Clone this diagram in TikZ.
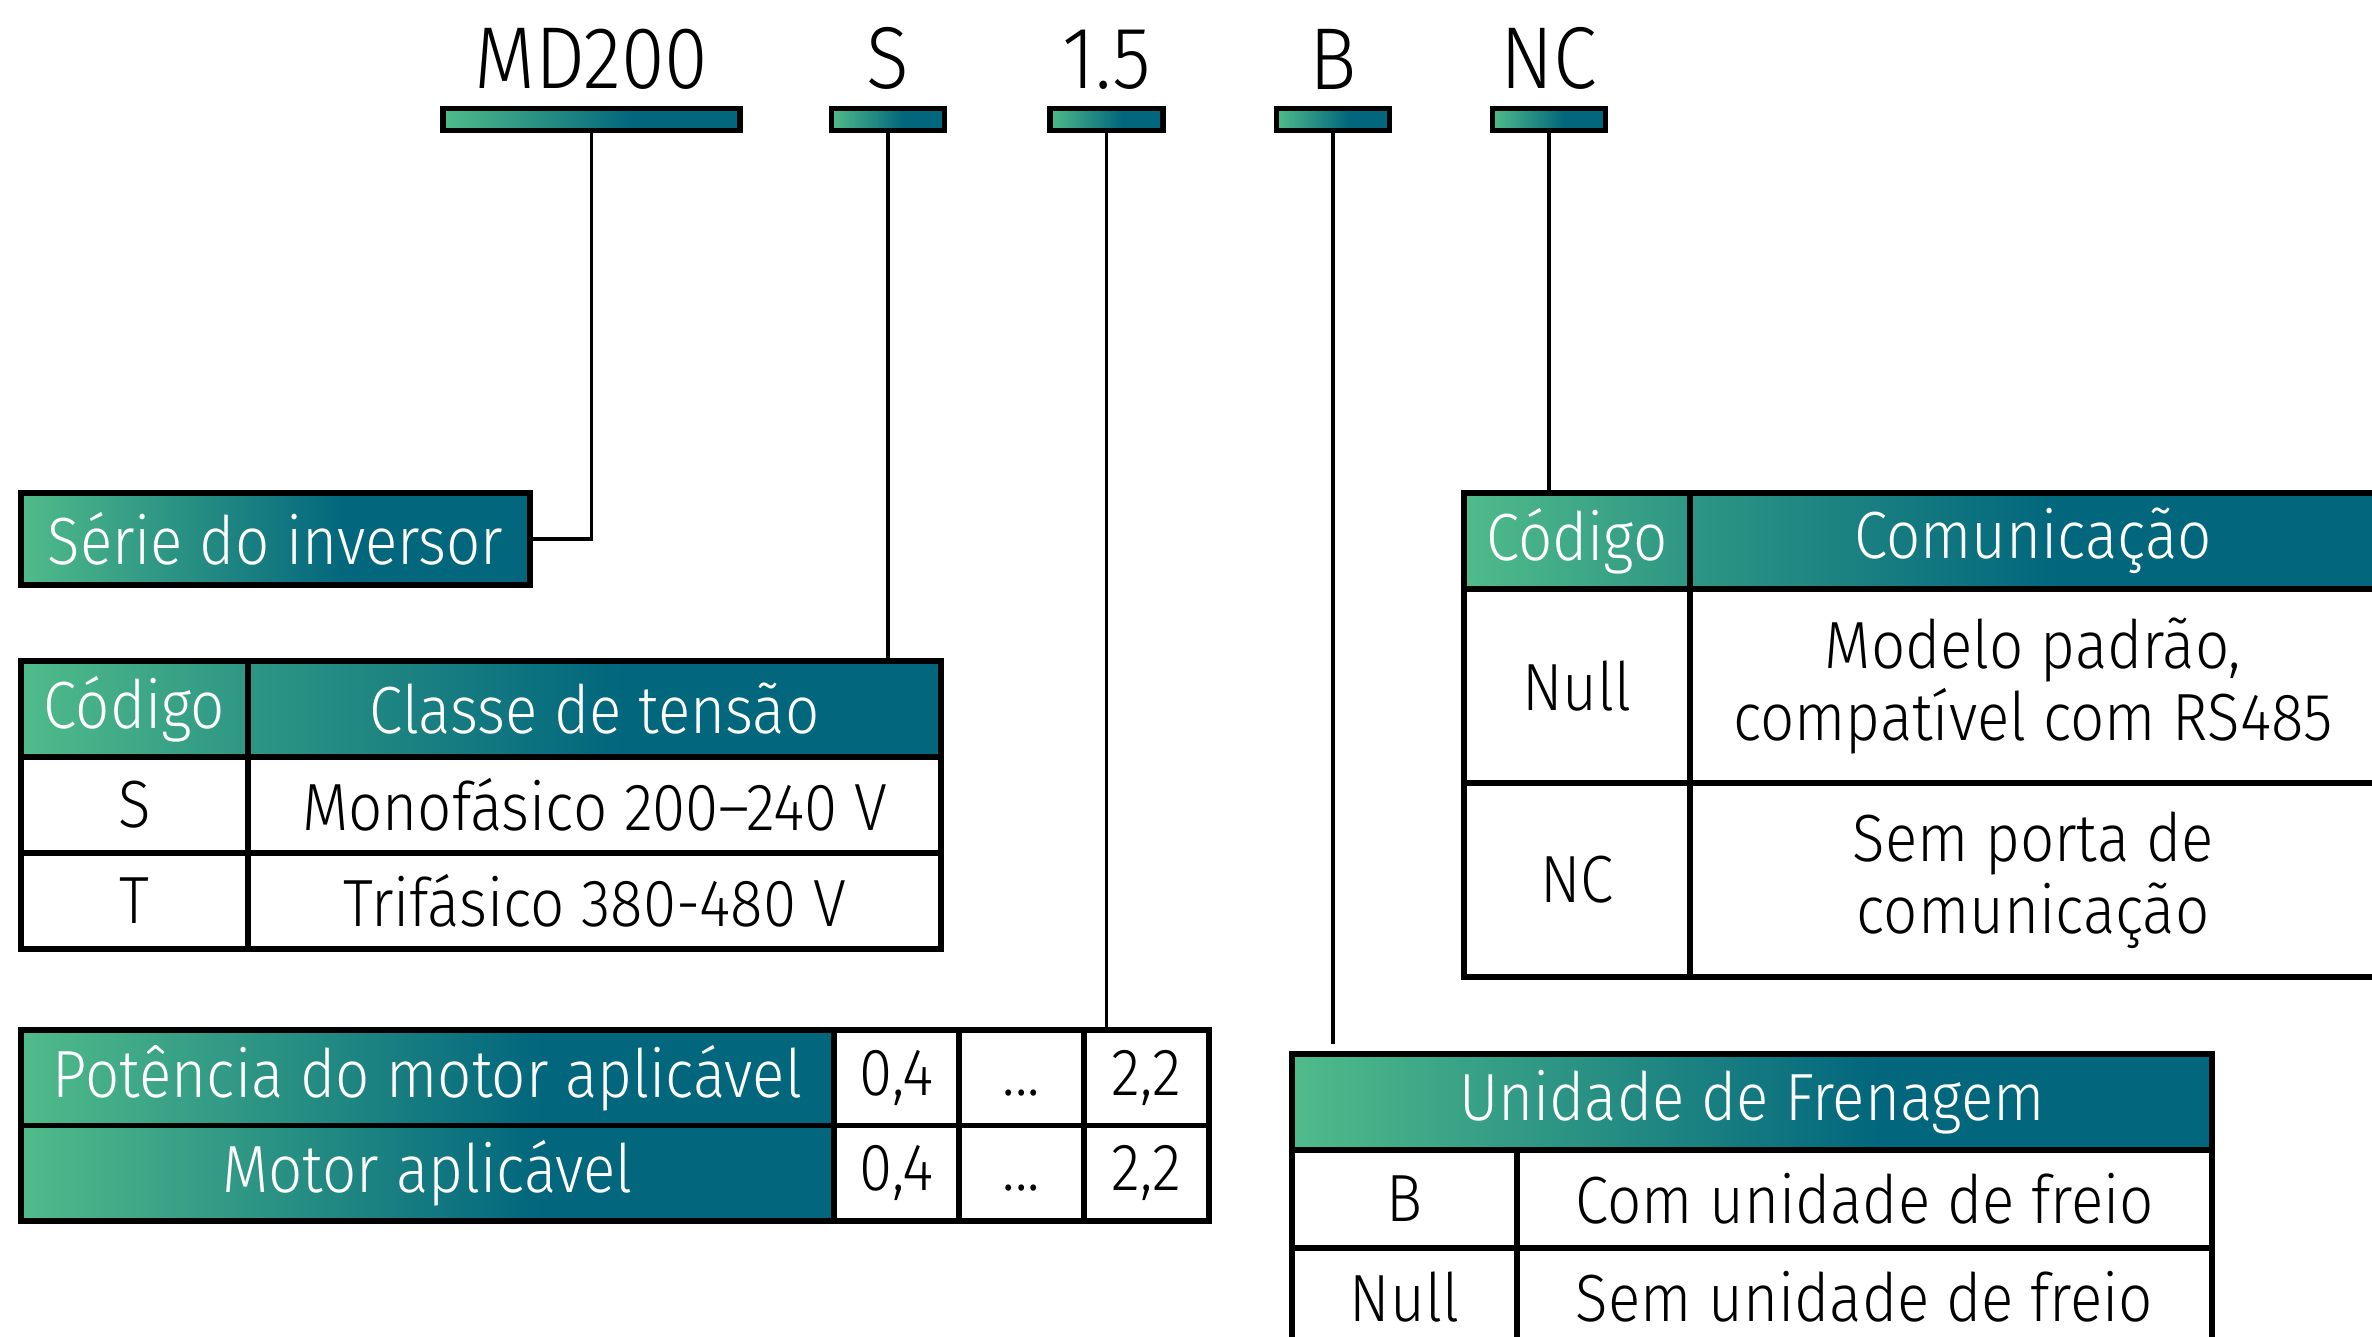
\documentclass[tikz,border=0pt]{standalone}
\usepackage{fontspec}
\setmainfont{Fira Sans}[UprightFont=* Light, FakeStretch=0.9]
\usetikzlibrary{positioning}
\definecolor{fadegrn}{RGB}{80,187,138}
\definecolor{fademid}{RGB}{46,150,132}
\definecolor{fadetl}{RGB}{2,102,125}
\pgfdeclarehorizontalshading{fadefull}{100bp}{color(0bp)=(fadegrn); color(25bp)=(fadegrn); color(57bp)=(fadetl); color(100bp)=(fadetl)}
\pgfdeclarehorizontalshading{fadeleft}{100bp}{color(0bp)=(fadegrn); color(25bp)=(fadegrn); color(75bp)=(fademid); color(100bp)=(fademid)}
\pgfdeclarehorizontalshading{faderight}{100bp}{color(0bp)=(fademid); color(25bp)=(fademid); color(52bp)=(fadetl); color(100bp)=(fadetl)}
\tikzset{
  cell/.style={rectangle, draw, line width=1.6pt, inner sep=0pt, outer sep=0pt, fill=white,
    minimum height=0.96cm, align=center, font=\fontsize{19}{20.6}\selectfont},
  hdr/.style={cell, shading=fadefull, text=white},
  hdrl/.style={cell, shading=fadeleft, text=white},
  hdrr/.style={cell, shading=faderight, text=white},
  bar/.style={cell, shading=fadefull, minimum width=1.13cm, minimum height=0.22cm},
  code/.style={inner sep=0pt, font=\fontsize{25}{30}\selectfont},
  link/.style={line width=1pt}
}

\begin{document}
\begin{tikzpicture}
	\useasboundingbox (0,0) rectangle (23.72,-13.37);

	% model code
	\node[bar, minimum width=2.97cm] (bMD) at (5.915,-1.195) {};
	\node[bar] (bS) at (8.88,-1.195) {};
	\node[bar] (bP) at (11.065,-1.195) {};
	\node[bar] (bB) at (13.33,-1.195) {};
	\node[bar] (bNC) at (15.49,-1.195) {};
	\node[code, above=0.18cm of bMD] (tMD) {MD200};
	\node[code, above=0.18cm of bS] (tS) {S};
	\node[code, above=0.18cm of bP] (tP) {1.5};
	\node[code, above=0.18cm of bB] (tB) {B};
	\node[code, above=0.18cm of bNC] (tNC) {NC};

	% series
	\node[hdr, minimum width=5.09cm, minimum height=0.92cm, anchor=north west] (ser) at (0.21,-4.93) {Série do inversor};
	\draw[link] (bMD) |- (ser);

	% voltage class
	\node[hdrl, minimum width=2.27cm, anchor=north west] (clsC) at (0.21,-6.61) {Código};
	\node[hdrr, minimum width=6.93cm, right=0pt of clsC] (clsV) {Classe de tensão};
	\node[cell, minimum width=2.27cm, below=0pt of clsC] (cS) {S};
	\node[cell, minimum width=6.93cm, right=0pt of cS] (vS) {Monofásico 200–240 V};
	\node[cell, minimum width=2.27cm, below=0pt of cS] (cT) {T};
	\node[cell, minimum width=6.93cm, right=0pt of cT] (vT) {Trifásico 380-480 V};
	\draw[link] (bS) -- (bS |- clsV.north);

	% motor power
	\node[hdr, minimum width=8.13cm, minimum height=0.955cm, anchor=north west] (pwrL) at (0.21,-10.30) {Potência do motor aplicável};
	\node[cell, minimum width=1.25cm, minimum height=0.955cm, right=0pt of pwrL] (pw1) {0,4};
	\node[cell, minimum width=1.25cm, minimum height=0.955cm, right=0pt of pw1] (pw2) {\vphantom{0,}...};
	\node[cell, minimum width=1.25cm, minimum height=0.955cm, right=0pt of pw2] (pw3) {2,2};
	\node[hdr, minimum width=8.13cm, minimum height=0.955cm, below=0pt of pwrL] (motL) {Motor aplicável};
	\node[cell, minimum width=1.25cm, minimum height=0.955cm, right=0pt of motL] (mt1) {0,4};
	\node[cell, minimum width=1.25cm, minimum height=0.955cm, right=0pt of mt1] (mt2) {\vphantom{0,}...};
	\node[cell, minimum width=1.25cm, minimum height=0.955cm, right=0pt of mt2] (mt3) {2,2};
	\draw[link] (bP) -- (bP |- pw3.north);

	% communication
	\node[hdrl, minimum width=2.26cm, anchor=north west] (comC) at (14.64,-4.93) {Código};
	\node[hdrr, minimum width=6.86cm, right=0pt of comC] (comV) {Comunicação};
	\node[cell, minimum width=2.26cm, minimum height=1.94cm, below=0pt of comC] (cNull) {Null};
	\node[cell, minimum width=6.86cm, minimum height=1.94cm, right=0pt of cNull] (vNull) {Modelo padrão,\\compatível com RS485};
	\node[cell, minimum width=2.26cm, minimum height=1.94cm, below=0pt of cNull] (cNC) {NC};
	\node[cell, minimum width=6.86cm, minimum height=1.94cm, right=0pt of cNC] (vNC) {Sem porta de\\comunicação};
	\draw[link] (bNC) -- (bNC |- comC.north);

	% braking unit
	\node[hdr, minimum width=9.20cm, anchor=north west] (unH) at (12.92,-10.54) {Unidade de Frenagem};
	\node[cell, minimum width=2.25cm, minimum height=0.98cm, below right=0pt and 0pt of unH.south west] (cB) {B};
	\node[cell, minimum width=6.95cm, minimum height=0.98cm, right=0pt of cB] (vB) {Com unidade de freio};
	\node[cell, minimum width=2.25cm, minimum height=0.98cm, below=0pt of cB] (cNu) {Null};
	\node[cell, minimum width=6.95cm, minimum height=0.98cm, right=0pt of cNu] (vNu) {Sem unidade de freio};
	\coordinate (bEnd) at (13.33,-10.44);
	\draw[link] (bB) -- (bEnd);
\end{tikzpicture}
\end{document}
